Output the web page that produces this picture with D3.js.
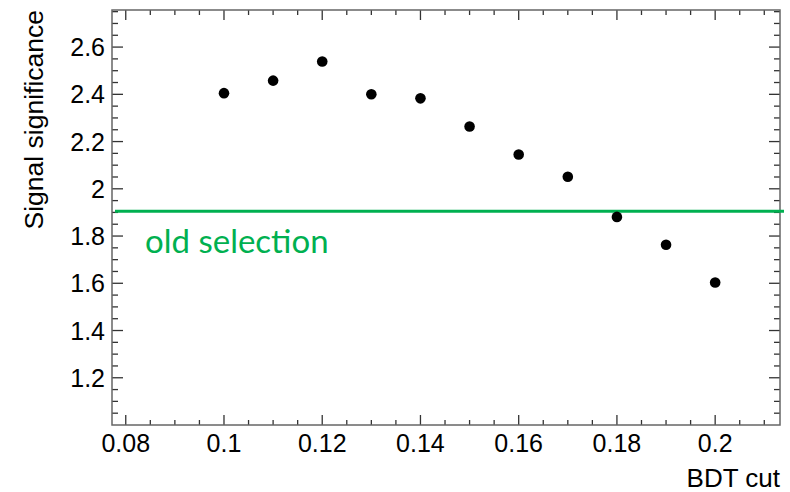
<!DOCTYPE html>
<html>
<head>
<meta charset="utf-8">
<script src="https://cdn.jsdelivr.net/npm/d3@7"></script>
<style>
  body { margin: 0; background: #fff; }
  #chart { width: 790px; height: 492px; }
</style>
</head>
<body>
<div id="chart"></div>
<script>
// BDT cut values and the significance read at each one
const bdtCut = [0.10, 0.11, 0.12, 0.13, 0.14, 0.15, 0.16, 0.17, 0.18, 0.19, 0.20];
const significance = [2.405, 2.458, 2.539, 2.400, 2.383, 2.264, 2.145, 2.051, 1.881, 1.763, 1.603];
const oldSelection = 1.905;
const xTicks = [0.08, 0.10, 0.12, 0.14, 0.16, 0.18, 0.20];
const yTicks = [1.2, 1.4, 1.6, 1.8, 2.0, 2.2, 2.4, 2.6];

function createChart(containerId) {
    const container = d3.select(`#${containerId}`);
    const width = 790, height = 492;
    const margin = { top: 10, right: 10, bottom: 67, left: 112 };
    const innerWidth = width - margin.left - margin.right;
    const innerHeight = height - margin.top - margin.bottom;

    const svg = container.append("svg")
        .attr("width", width)
        .attr("height", height)
        .append("g")
        .attr("transform", `translate(${margin.left}, ${margin.top})`);

    const x = d3.scaleLinear().domain([0.0772, 0.2132]).range([0, innerWidth]);
    const y = d3.scaleLinear().domain([1.0, 2.757]).range([innerHeight, 0]);

    const font = "'Liberation Sans', Arial, sans-serif";
    const tickColor = "#333";

    // minor ticks every 0.005 / 0.05
    const xMinor = d3.range(0.08, 0.2132, 0.005).filter(v => Math.abs(v * 100 - Math.round(v * 50) * 2) > 1e-6);
    const yMinor = d3.range(1.05, 2.757, 0.05).filter(v => Math.abs(v * 10 - Math.round(v * 5) * 2) > 1e-6);

    const ticks = svg.append("g").attr("stroke", tickColor).attr("stroke-width", 1.3);

    // x ticks, bottom and top
    xTicks.forEach(v => {
        ticks.append("line").attr("x1", x(v)).attr("x2", x(v)).attr("y1", innerHeight).attr("y2", innerHeight - 10);
        ticks.append("line").attr("x1", x(v)).attr("x2", x(v)).attr("y1", 0).attr("y2", 10);
    });
    xMinor.forEach(v => {
        ticks.append("line").attr("x1", x(v)).attr("x2", x(v)).attr("y1", innerHeight).attr("y2", innerHeight - 5);
        ticks.append("line").attr("x1", x(v)).attr("x2", x(v)).attr("y1", 0).attr("y2", 5);
    });
    // y ticks, left and right
    yTicks.forEach(v => {
        ticks.append("line").attr("x1", 0).attr("x2", 11).attr("y1", y(v)).attr("y2", y(v));
        ticks.append("line").attr("x1", innerWidth).attr("x2", innerWidth - 11).attr("y1", y(v)).attr("y2", y(v));
    });
    yMinor.forEach(v => {
        ticks.append("line").attr("x1", 0).attr("x2", 6).attr("y1", y(v)).attr("y2", y(v));
        ticks.append("line").attr("x1", innerWidth).attr("x2", innerWidth - 6).attr("y1", y(v)).attr("y2", y(v));
    });

    // frame
    svg.append("rect")
        .attr("width", innerWidth)
        .attr("height", innerHeight)
        .attr("fill", "none")
        .attr("stroke", "#666")
        .attr("stroke-width", 1.5);

    // tick labels
    svg.selectAll("text.xl")
        .data(xTicks)
        .enter().append("text")
        .attr("class", "xl")
        .attr("x", d => x(d))
        .attr("y", innerHeight + 27)
        .attr("text-anchor", "middle")
        .style("font-family", font)
        .style("font-size", "25px")
        .text(d => d3.format("")(+d.toFixed(2)));

    svg.selectAll("text.yl")
        .data(yTicks)
        .enter().append("text")
        .attr("class", "yl")
        .attr("x", -7)
        .attr("y", d => y(d))
        .attr("dy", "0.36em")
        .attr("text-anchor", "end")
        .style("font-family", font)
        .style("font-size", "25px")
        .text(d => d3.format("")(+d.toFixed(1)));

    // axis titles
    svg.append("text")
        .attr("x", innerWidth)
        .attr("y", innerHeight + 62)
        .attr("text-anchor", "end")
        .style("font-family", font)
        .style("font-size", "26px")
        .text("BDT cut");

    svg.append("text")
        .attr("transform", "rotate(-90)")
        .attr("x", 0)
        .attr("y", -69)
        .attr("text-anchor", "end")
        .style("font-family", font)
        .style("font-size", "26.5px")
        .text("Signal significance");

    // old selection line
    svg.append("line")
        .attr("x1", x(0.0772) + 3)
        .attr("x2", innerWidth + 4)
        .attr("y1", y(oldSelection))
        .attr("y2", y(oldSelection))
        .attr("stroke", "#00b050")
        .attr("stroke-width", 3);

    svg.append("text")
        .attr("x", 33)
        .attr("y", y(oldSelection) + 42)
        .attr("fill", "#00b050")
        .style("font-family", "Lato, sans-serif")
        .style("font-size", "33px")
        .text("old selection");

    // points
    svg.selectAll("circle")
        .data(bdtCut)
        .enter().append("circle")
        .attr("cx", (d, i) => x(d))
        .attr("cy", (d, i) => y(significance[i]))
        .attr("r", 5.3)
        .attr("fill", "#000");
}

createChart("chart");
</script>
</body>
</html>
